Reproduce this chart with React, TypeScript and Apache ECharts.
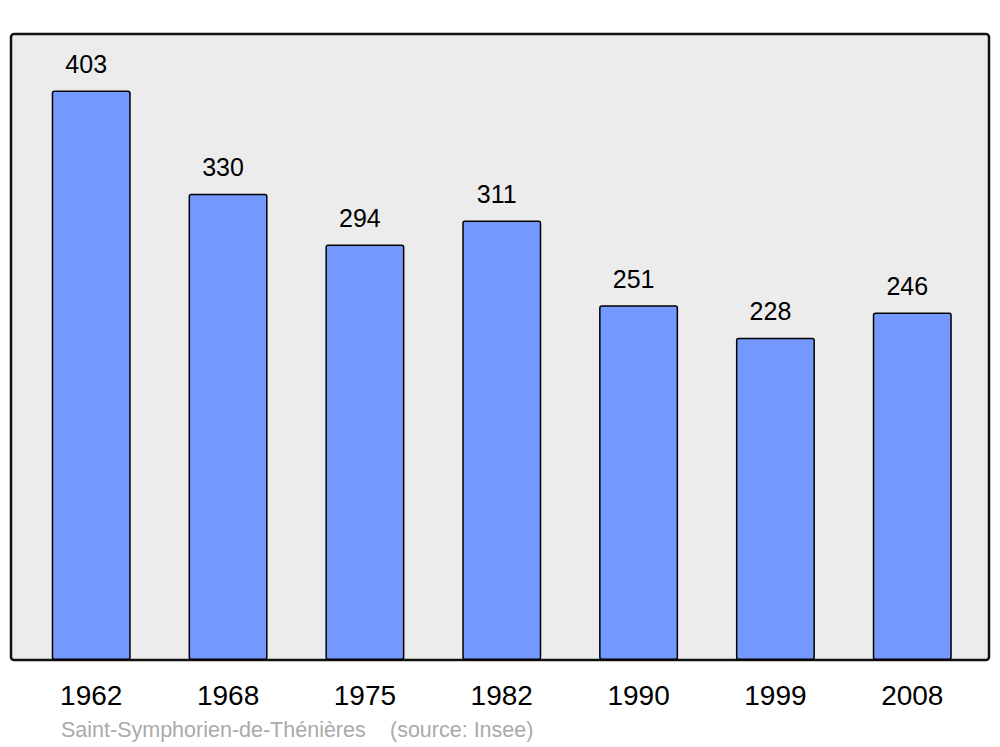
import React, { useEffect, useRef } from "react";
import * as echarts from "echarts";

const years = ["1962", "1968", "1975", "1982", "1990", "1999", "2008"];
const population = [403, 330, 294, 311, 251, 228, 246];
const footerName = "Saint-Symphorien-de-Thénières";
const footerSource = "(source: Insee)";

const FONT = "'Liberation Sans', Arial, sans-serif";

export default function App() {
  const ref = useRef<HTMLDivElement>(null);
  useEffect(() => {
    if (!ref.current) return;
    const chart = echarts.init(ref.current, undefined, { renderer: "svg" });
    chart.setOption({
      animation: false,
      backgroundColor: "#ffffff",
      textStyle: { fontFamily: FONT },
      grid: { left: 22.8, right: 19.3, top: 34, bottom: 87 },
      graphic: [
        {
          type: "rect",
          z: -10,
          silent: true,
          shape: { x: 11, y: 34, width: 978, height: 626, r: 3 },
          style: { fill: "#ececec", stroke: "#111111", lineWidth: 2.5 },
        },
        {
          type: "text",
          x: 61,
          y: 730,
          style: {
            text: footerName,
            fill: "#aaaaaa",
            font: `21.5px ${FONT}`,
            textVerticalAlign: "middle",
          },
        },
        {
          type: "text",
          x: 390,
          y: 730,
          style: {
            text: footerSource,
            fill: "#aaaaaa",
            font: `21.5px ${FONT}`,
            textVerticalAlign: "middle",
          },
        },
      ],
      xAxis: {
        type: "category",
        data: years,
        axisLine: { show: false },
        axisTick: { show: false },
        axisLabel: {
          color: "#000000",
          fontSize: 28,
          lineHeight: 28,
          margin: 21,
          fontFamily: FONT,
        },
      },
      yAxis: {
        type: "value",
        min: 0,
        max: 443,
        show: false,
        splitLine: { show: false },
      },
      series: [
        {
          type: "bar",
          data: population,
          barWidth: 79,
          z: 2,
          itemStyle: {
            color: "#7399ff",
            borderColor: "#000000",
            borderWidth: 1.5,
            borderRadius: 2,
          },
          label: {
            show: true,
            position: "top",
            distance: 14,
            offset: [-5, 0],
            color: "#000000",
            fontSize: 25,
            lineHeight: 25,
            fontFamily: FONT,
          },
        },
      ],
    });
    return () => chart.dispose();
  }, []);
  return (
    <div
      ref={ref}
      style={{ position: "fixed", left: 0, top: 0, width: 1000, height: 747 }}
    />
  );
}
